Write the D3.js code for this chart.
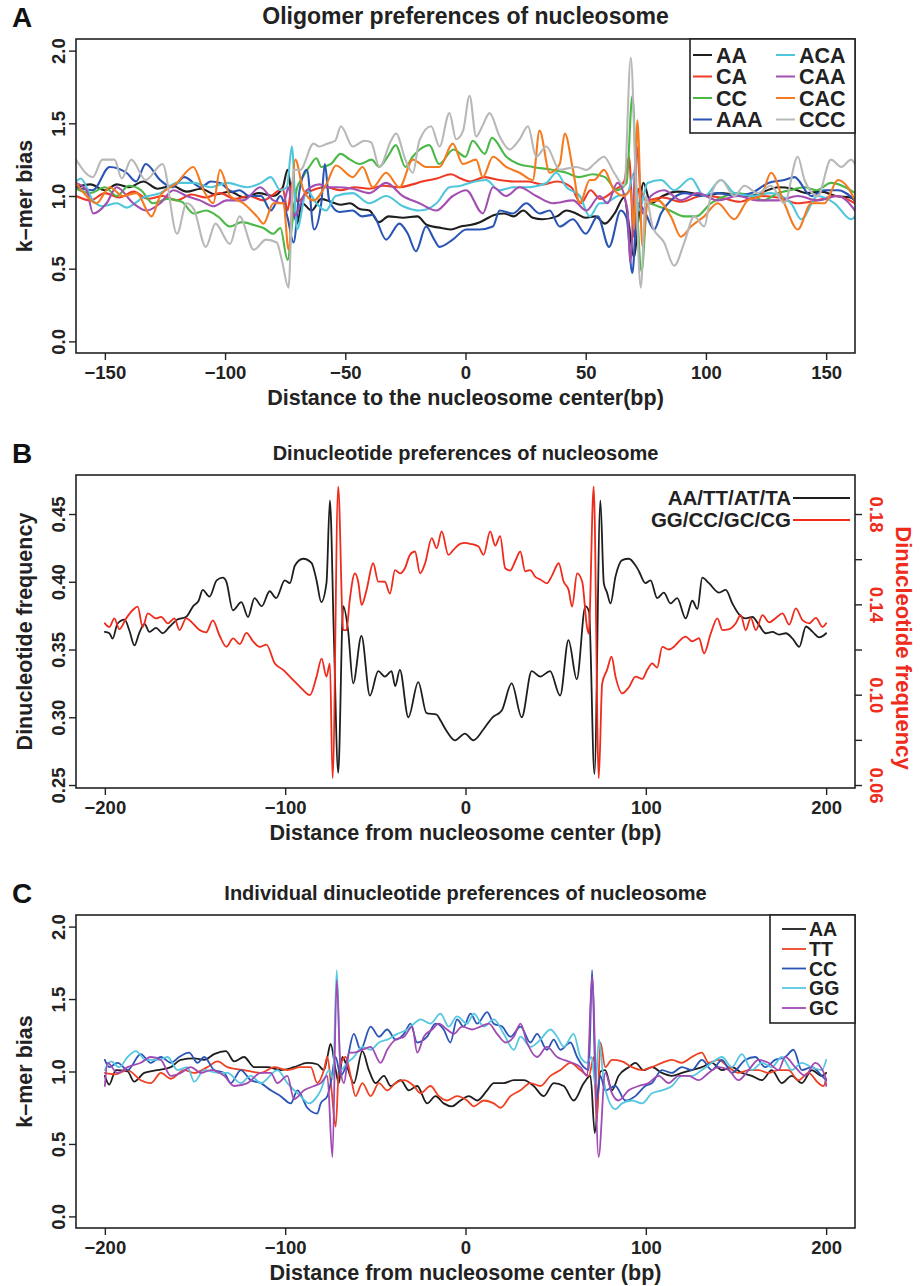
<!DOCTYPE html>
<html><head><meta charset="utf-8">
<script src="https://cdn.jsdelivr.net/npm/d3@7"></script>
<style>
body{margin:0;background:#fff}
svg{display:block}
</style>
</head><body>
<svg id="chart" width="920" height="1286"></svg>
<script>
// ---------------- DATA ----------------
// Panel A: k-mer bias vs distance to nucleosome center (bp)
const aTicksX = [-150,-100,-50,0,50,100,150];
const kTicksY = [0,0.5,1,1.5,2];
const aNames = ["AA","CA","CC","AAA","ACA","CAA","CAC","CCC"];
const aAA = [[-162,1.06],[-156,1.08],[-150,1.04],[-145,1.08],[-140,1.06],[-134,1.1],[-128,1.05],[-122,1.07],[-116,1.03],[-110,1.05],[-104,1.01],[-98,1.03],[-92,0.99],[-86,1.02],[-80,1.0],[-76,1.06],[-74,1.18],[-72,0.95],[-70,0.81],[-68,0.95],[-64,0.9],[-60,0.98],[-56,0.96],[-52,0.94],[-48,0.95],[-44,0.91],[-40,0.9],[-36,0.82],[-32,0.86],[-26,0.85],[-20,0.86],[-16,0.8],[-10,0.78],[-6,0.77],[-2,0.79],[2,0.8],[6,0.82],[12,0.87],[16,0.88],[20,0.86],[24,0.9],[28,0.85],[32,0.84],[38,0.86],[42,0.9],[46,0.88],[50,0.85],[54,0.86],[58,0.81],[62,0.88],[66,0.99],[68,0.8],[70,0.58],[72,0.85],[74,1.09],[77,0.95],[82,1.0],[88,1.03],[94,1.02],[100,1.0],[106,1.02],[112,1.01],[118,1.0],[124,1.03],[130,1.06],[136,1.05],[142,1.02],[148,1.03],[154,1.0],[160,0.99],[162,0.97]];
const aCA = [[-162,1.0],[-156,0.97],[-150,1.02],[-144,0.99],[-138,1.03],[-132,0.98],[-126,1.0],[-120,0.97],[-114,1.01],[-108,0.99],[-102,1.02],[-96,0.98],[-90,1.0],[-84,0.97],[-80,1.01],[-76,1.05],[-74,0.9],[-72,1.1],[-70,0.96],[-66,1.02],[-62,1.05],[-58,1.06],[-52,1.04],[-46,1.06],[-40,1.05],[-34,1.07],[-28,1.06],[-22,1.08],[-18,1.1],[-12,1.12],[-6,1.15],[-2,1.12],[2,1.1],[8,1.13],[14,1.11],[20,1.1],[26,1.1],[32,1.08],[38,1.1],[44,1.06],[48,0.95],[52,1.04],[56,0.98],[62,1.04],[66,1.1],[68,1.27],[70,0.72],[72,1.05],[75,0.97],[82,0.99],[90,0.96],[98,1.0],[106,0.99],[114,0.96],[122,1.0],[130,0.99],[138,0.95],[146,0.97],[154,1.0],[162,0.95]];
const aCC = [[-162,1.05],[-156,1.02],[-150,1.06],[-145,1.0],[-140,1.07],[-135,1.04],[-130,0.95],[-124,0.98],[-118,0.96],[-113,0.88],[-108,0.9],[-103,0.86],[-98,0.79],[-93,0.82],[-88,0.8],[-84,0.78],[-80,0.74],[-77,0.78],[-74,0.56],[-72,0.82],[-70,1.06],[-68,1.12],[-65,1.2],[-62,1.26],[-60,1.2],[-56,1.22],[-52,1.29],[-48,1.25],[-44,1.22],[-39,1.25],[-36,1.2],[-32,1.28],[-29,1.35],[-25,1.2],[-22,1.27],[-19,1.32],[-15,1.35],[-11,1.22],[-5,1.32],[0,1.27],[3,1.38],[8,1.29],[11,1.4],[17,1.27],[22,1.22],[28,1.2],[36,1.18],[42,1.16],[47,1.13],[53,1.15],[58,1.13],[63,1.04],[67,1.09],[69.4,1.69],[71.5,0.88],[73.2,0.48],[75.7,0.95],[80,0.93],[85,0.9],[91,0.86],[96,0.86],[102,0.95],[108,1.0],[113,1.02],[119,1.0],[124,0.97],[130,1.02],[135,1.04],[141,1.06],[146,1.04],[152,1.09],[158,1.06],[162,1.02]];
const aAAA = [[-162,1.06],[-155,1.04],[-148,1.2],[-141,1.16],[-137,1.1],[-133,1.22],[-127,1.11],[-122,1.06],[-117,1.13],[-110,1.06],[-106,1.1],[-102,1.09],[-97,1.03],[-94,1.04],[-90,1.0],[-85,1.0],[-81,0.9],[-77,1.0],[-74,0.85],[-71.5,0.68],[-69,1.04],[-66,1.18],[-63,0.77],[-60,0.95],[-58.5,1.22],[-56.7,0.97],[-52.5,0.89],[-47,0.9],[-43,0.86],[-38.6,0.87],[-33,0.7],[-27.5,0.81],[-24,0.74],[-20.6,0.62],[-16.4,0.79],[-13,0.7],[-10.8,0.65],[-5.3,0.7],[0.3,0.77],[5.8,0.77],[11.4,0.79],[14.2,0.9],[19.7,0.88],[25.3,0.95],[30.8,0.88],[35,0.9],[39.2,0.79],[44.7,0.84],[50,0.74],[55,0.86],[59.7,0.65],[64.6,0.9],[67,0.85],[69.4,0.47],[71.5,0.95],[74.3,0.9],[78.5,0.77],[81.3,0.88],[85.4,0.97],[91,1.02],[98,1.0],[105,1.02],[112,1.0],[119,1.02],[126,1.09],[132.6,1.11],[136.8,1.13],[143.8,1.0],[149.3,1.04],[155,1.04],[162,0.97]];
const aACA = [[-162,1.1],[-160,1.12],[-155,0.97],[-151,0.93],[-145,0.95],[-141,0.92],[-134,0.99],[-127,1.02],[-120,1.09],[-113,1.09],[-106,1.06],[-99,1.09],[-91,1.06],[-85,1.09],[-81,1.13],[-77,1.04],[-74.3,1.06],[-72.2,1.34],[-70.1,0.77],[-66,1.04],[-62,0.95],[-58,0.9],[-54,1.0],[-47,1.02],[-40,0.95],[-33,1.0],[-26,0.93],[-19,0.9],[-12,0.95],[-6.7,1.06],[-2,1.07],[1.7,1.09],[8.6,1.11],[14,1.04],[20,1.06],[25,1.06],[33.6,1.09],[37.8,1.16],[42,1.06],[47.5,1.0],[51.7,0.86],[55.8,0.95],[57.6,0.95],[63.2,1.0],[67.4,1.02],[70.1,1.16],[72.2,0.9],[75.7,1.09],[81.3,1.11],[86.8,1.04],[93.8,1.12],[99.3,1.0],[106.3,1.11],[111.8,1.02],[118.8,1.0],[127,1.02],[135.4,0.95],[139.6,0.84],[146.5,1.0],[153.5,0.95],[160.4,0.84],[162,0.86]];
const aCAA = [[-162,1.09],[-157.6,1.04],[-154.9,0.88],[-149.3,0.95],[-145.1,1.06],[-138.2,0.95],[-132.6,0.9],[-127,0.95],[-121.5,1.04],[-116,1.0],[-110.4,0.97],[-104.9,0.93],[-99.3,0.97],[-92.4,0.97],[-85.4,1.06],[-79.9,0.97],[-75.7,0.95],[-73.6,1.06],[-71.5,0.86],[-66,1.04],[-60.6,1.08],[-57.6,1.06],[-53.9,1.06],[-46.9,1.05],[-40,1.02],[-33,1.09],[-26.1,1.0],[-19.2,0.95],[-12.2,0.9],[-5.3,1.0],[0.3,1.04],[7.2,0.88],[11.4,1.06],[16.9,1.0],[22.5,1.06],[29.4,1.0],[36.4,0.95],[44.7,0.97],[50.3,0.9],[55.8,1.0],[59,0.95],[63.2,1.09],[67.4,0.9],[68.5,0.54],[71.2,1.34],[73.6,0.88],[77.1,1.0],[82.6,1.04],[89.6,0.97],[96.5,1.02],[104.9,0.97],[113.2,1.0],[121.5,0.97],[129.9,0.97],[138.2,1.0],[146.5,0.97],[154.9,1.0],[162,0.9]];
const aCAC = [[-162,1.09],[-157.6,1.0],[-153.5,0.95],[-148,1.06],[-142.4,1.0],[-136.8,1.02],[-130.6,0.86],[-127,1.0],[-120.1,1.09],[-113.2,1.2],[-109,1.04],[-104.9,0.95],[-102.1,1.18],[-97.9,1.0],[-92.4,0.95],[-86.8,0.86],[-84,0.81],[-79.9,0.95],[-75.7,0.95],[-73.6,0.63],[-70.8,1.25],[-67.4,1.04],[-63.2,0.97],[-57.6,1.09],[-53.9,1.21],[-46.9,1.13],[-42.8,1.2],[-38.6,1.06],[-33,1.16],[-27.5,1.06],[-21.9,1.25],[-16.4,1.2],[-10.8,1.2],[-5.3,1.36],[-1.1,1.22],[4.4,1.25],[7.2,1.13],[11.4,1.27],[16.9,1.2],[22.5,1.16],[28,1.11],[30.8,1.45],[35,1.16],[39.2,1.22],[41.3,1.43],[44.7,1.18],[47.5,0.95],[51.7,1.11],[53.5,1.11],[57.6,1.18],[61.8,1.04],[66,1.0],[68.75,1.04],[70.1,0.77],[71.5,1.52],[73.6,0.65],[75.7,0.95],[79.9,0.97],[85.4,0.86],[89.6,0.72],[93.8,0.79],[99.3,0.86],[104.9,0.95],[111.8,0.84],[117.4,0.97],[122.9,1.0],[127.1,1.16],[132.6,0.95],[138.2,0.77],[143.8,0.95],[149.3,0.95],[154.9,1.11],[159,1.06],[162,0.97]];
const aCCC = [[-162,1.25],[-155,1.13],[-151,1.25],[-146,1.25],[-143,1.12],[-139,1.25],[-133,1.11],[-126,1.22],[-120,0.74],[-116,0.95],[-113,0.91],[-108,0.65],[-104,0.81],[-98,0.67],[-94,0.86],[-88,0.63],[-83,0.7],[-78.5,0.68],[-76.4,0.56],[-73.6,0.37],[-71.5,1.18],[-68.75,1.18],[-63.2,1.36],[-60.8,1.34],[-57.6,1.36],[-54.2,1.38],[-51.8,1.48],[-46.9,1.34],[-42,1.38],[-39.3,1.37],[-35.8,1.2],[-31,1.38],[-28.9,1.43],[-25,1.25],[-21.9,1.16],[-19.2,1.38],[-14.3,1.48],[-10.8,1.34],[-6.7,1.57],[-3.9,1.39],[-1,1.45],[1.7,1.69],[4.4,1.41],[7,1.48],[10,1.57],[14.2,1.41],[18.3,1.32],[22.5,1.39],[26,1.48],[29.4,1.27],[33.6,1.34],[39.2,1.18],[46.1,1.2],[50.3,1.18],[53.5,1.22],[57.6,1.27],[61.8,1.16],[66,1.07],[68.75,1.95],[70.8,1.11],[72.9,0.37],[75,1.0],[77.8,0.79],[82.6,0.68],[86.8,0.52],[91,0.68],[95.1,0.86],[99.3,0.79],[102,1.0],[106.3,1.11],[111.8,1.0],[116,1.07],[121.5,1.02],[127,1.07],[132.6,0.95],[138.2,1.27],[141,1.11],[146.5,1.0],[152,1.25],[156.3,1.2],[160.4,1.25],[162,1.22]];

// Panel B: dinucleotide frequency vs distance from nucleosome center (bp)
const bTicksX = [-200,-100,0,100,200];
const bTicksLeft = [0.25,0.30,0.35,0.40,0.45];
const bTicksRight = [0.06,0.08,0.10,0.12,0.14,0.16,0.18];
const bTicksRightLabelled = [0.06,0.10,0.14,0.18];
const bNames = ["AA/TT/AT/TA","GG/CC/GC/CG"];
const bWW = [[-200,0.363],[-197.5,0.362],[-195.7,0.358],[-193,0.369],[-189,0.372],[-186.4,0.364],[-183.6,0.353],[-181,0.362],[-178,0.369],[-175.3,0.363],[-171.6,0.366],[-168,0.362],[-164,0.367],[-160,0.372],[-155,0.374],[-151,0.382],[-148,0.386],[-145.7,0.394],[-142,0.389],[-138,0.401],[-134.5,0.403],[-132.6,0.4],[-129,0.379],[-124.3,0.385],[-120.6,0.374],[-117,0.388],[-113,0.382],[-108.6,0.393],[-105,0.388],[-100.2,0.401],[-97.4,0.399],[-94.6,0.412],[-90,0.417],[-85.4,0.414],[-82.6,0.401],[-80,0.385],[-77.1,0.399],[-75.2,0.46],[-73,0.36],[-70.6,0.259],[-67.8,0.382],[-65.1,0.364],[-62.3,0.325],[-57.7,0.36],[-53,0.316],[-48.4,0.334],[-44.7,0.33],[-41,0.334],[-39,0.323],[-36.4,0.335],[-31.7,0.3],[-26.2,0.326],[-21.6,0.303],[-16,0.302],[-14,0.298],[-11,0.291],[-5.8,0.283],[-0.3,0.288],[4.3,0.283],[9.9,0.291],[15,0.3],[20.1,0.305],[25.6,0.325],[31.2,0.3],[36.7,0.334],[41.4,0.33],[46.9,0.334],[52.5,0.316],[57.1,0.357],[61.7,0.328],[66.5,0.382],[68.5,0.378],[71.5,0.258],[74.8,0.46],[76.7,0.399],[78.5,0.392],[80.4,0.384],[83.2,0.404],[86.9,0.416],[90.6,0.417],[94.3,0.412],[96.1,0.408],[99.8,0.399],[102.6,0.401],[106.3,0.388],[110,0.392],[113.7,0.384],[117.4,0.388],[122.1,0.373],[125.8,0.386],[128.6,0.38],[131.3,0.403],[135,0.399],[140.6,0.392],[144.3,0.394],[148,0.384],[151.7,0.376],[155.4,0.373],[159.1,0.374],[162.8,0.368],[166.5,0.362],[170.2,0.363],[173.9,0.361],[177.7,0.362],[181.4,0.358],[185.1,0.352],[188.8,0.367],[192.5,0.363],[196.2,0.359],[200,0.362]];
const bSS = [[-200,0.1316],[-197.5,0.13],[-194.7,0.1338],[-192,0.129],[-188.2,0.1338],[-184.5,0.1375],[-181.8,0.139],[-179,0.13],[-176.2,0.136],[-171.6,0.1338],[-168.8,0.1345],[-165.1,0.1316],[-161.4,0.1338],[-158.6,0.1286],[-154.9,0.1338],[-151.2,0.1316],[-147.5,0.1286],[-143.8,0.1276],[-140.1,0.1329],[-136.4,0.1262],[-132.6,0.1212],[-128.9,0.1249],[-125.2,0.1224],[-121.5,0.1274],[-117.8,0.1236],[-114.1,0.1212],[-110.4,0.1222],[-105.8,0.1139],[-101.1,0.111],[-97.4,0.108],[-93.7,0.105],[-90,0.102],[-86.3,0.0998],[-82.6,0.108],[-79.8,0.116],[-77.1,0.108],[-75.2,0.1139],[-73.7,0.063],[-70.6,0.1921],[-67.8,0.1286],[-66,0.1286],[-64.2,0.1419],[-61.3,0.1537],[-59.5,0.15],[-57.6,0.1397],[-54.9,0.1463],[-51.2,0.1582],[-48.4,0.1501],[-44.7,0.15],[-41.9,0.1448],[-39.1,0.1552],[-36.3,0.1537],[-33.6,0.156],[-30.8,0.1619],[-28,0.1634],[-25.2,0.1537],[-22.4,0.1582],[-18.7,0.1693],[-16,0.1648],[-13.2,0.1723],[-9.5,0.1619],[-6.7,0.1641],[-3,0.1668],[0,0.1672],[2.6,0.1668],[7.2,0.1656],[10,0.1619],[13.7,0.1723],[16.5,0.166],[19.2,0.1702],[22,0.156],[24.8,0.155],[27.6,0.1592],[30.4,0.1634],[33.1,0.1546],[35.9,0.1552],[38.7,0.1522],[41.5,0.151],[45.2,0.1493],[47.9,0.1526],[51.7,0.1582],[54.4,0.1501],[57.2,0.1463],[59.1,0.139],[61.9,0.1537],[64.7,0.1501],[67.4,0.1298],[68.3,0.127],[71.1,0.1921],[73.9,0.063],[75.8,0.105],[78.5,0.111],[81,0.1168],[83.2,0.108],[86.9,0.1006],[90.6,0.1033],[94.3,0.108],[98,0.107],[100.8,0.111],[103.5,0.1139],[106.3,0.112],[109.1,0.1212],[112.8,0.12],[115.6,0.1212],[118.4,0.1236],[122.1,0.1257],[125.8,0.1236],[129.5,0.125],[132.3,0.1183],[136,0.1271],[139.7,0.1338],[142.5,0.1286],[146.2,0.129],[149.9,0.1316],[152.6,0.1352],[155.4,0.1286],[158.2,0.134],[161,0.1286],[164.7,0.1352],[168.4,0.132],[172.1,0.134],[175.8,0.136],[179.5,0.131],[183.2,0.1382],[186.9,0.133],[190.6,0.1316],[194.3,0.134],[198,0.13],[200,0.1316]];

// Panel C: individual dinucleotide k-mer bias
const cTicksX = [-200,-100,0,100,200];
const cNames = ["AA","TT","CC","GG","GC"];
const cAA = [[-200,0.97],[-197.6,0.91],[-193.9,1.01],[-187.4,1.0],[-183.7,0.93],[-178.2,0.99],[-170.8,1.01],[-163.4,1.03],[-157.9,1.08],[-150.4,1.09],[-144.9,1.08],[-139.4,1.12],[-132.9,1.14],[-128.3,1.07],[-122.8,1.1],[-117.2,1.03],[-109.8,1.03],[-102.5,1.01],[-95.1,1.03],[-87.7,1.06],[-82.2,1.05],[-78.5,1.01],[-76.6,1.1],[-74.8,1.19],[-72,1.01],[-70.2,0.92],[-68.3,1.1],[-65.6,1.03],[-61.9,0.92],[-57.2,1.14],[-53.6,1.01],[-49.9,0.92],[-45.2,0.97],[-41.5,0.9],[-36,0.94],[-31.4,0.87],[-26.8,0.9],[-21.3,0.78],[-16.6,0.83],[-12.1,0.78],[-7.5,0.76],[-2.8,0.8],[1.8,0.83],[6.5,0.8],[12,0.87],[15.7,0.92],[21.2,0.92],[26.8,0.94],[32.3,0.94],[37.8,0.9],[43.4,0.83],[48.9,0.92],[54.5,0.9],[60,0.8],[65.6,0.92],[69.3,0.97],[71.7,0.575],[74.8,1.0],[77.5,1.01],[81.2,0.87],[84.9,0.97],[90.5,1.03],[94.2,1.06],[98.8,1.01],[103.4,1.03],[108.9,0.99],[114.5,0.97],[120,0.99],[125.5,1.01],[131.1,1.03],[136.6,1.06],[142.2,1.01],[147.7,1.03],[153.3,0.99],[158.8,0.97],[164.4,0.94],[169.9,1.01],[175.4,0.92],[180.9,0.97],[186.5,0.92],[192,1.01],[197.6,0.97],[200,0.99]];
const cTT = [[-200,0.99],[-194.4,0.98],[-187.4,1.01],[-180.1,0.94],[-174.5,0.92],[-168.9,0.99],[-163.4,0.95],[-156,1.01],[-150.4,0.99],[-143.1,1.03],[-137.5,1.07],[-132,1.03],[-122.8,1.01],[-113.5,0.99],[-106.1,1.03],[-98.8,1.01],[-91.4,1.03],[-85.8,1.03],[-82.2,0.92],[-78.5,1.01],[-76.6,1.1],[-74.5,0.9],[-72,0.62],[-70.2,1.01],[-66.5,1.1],[-63.7,0.97],[-61,0.83],[-57.2,0.92],[-52.6,0.83],[-48,0.92],[-43.4,0.87],[-38.8,0.92],[-34.1,0.94],[-28.6,0.9],[-25,0.85],[-19.4,0.9],[-14.8,0.83],[-10.2,0.8],[-4.7,0.83],[0.9,0.8],[4.6,0.76],[10.2,0.8],[15.7,0.78],[19.4,0.75],[24.9,0.83],[30.5,0.87],[36,0.92],[41.5,0.9],[47.1,0.97],[52.6,1.01],[58.2,1.06],[63.7,1.01],[68.4,0.97],[71.2,1.1],[72.8,0.65],[74.8,1.2],[77.5,1.03],[81.2,1.08],[86.8,1.07],[92.3,1.03],[97.9,1.01],[103.4,1.03],[109,1.06],[114.5,1.08],[120,1.06],[125.5,1.1],[131.1,1.13],[134.8,1.06],[140.3,1.08],[145.9,1.03],[151.4,0.99],[157,1.01],[162.5,1.01],[168,0.99],[173.6,1.01],[179.1,1.01],[184.6,0.94],[190.2,0.99],[195.7,0.92],[198.5,0.9],[200,0.95]];
const cCC = [[-200,1.08],[-197.6,1.03],[-192.9,1.06],[-187.4,1.01],[-180.1,1.12],[-174.5,1.06],[-168.9,1.1],[-163.4,1.06],[-158.8,1.1],[-153.3,1.13],[-148.6,1.06],[-144.9,1.1],[-139.4,1.01],[-133.8,0.99],[-130.2,0.92],[-124.6,1.01],[-119.1,0.94],[-113.5,0.92],[-108,0.87],[-102.5,0.83],[-96.9,0.78],[-93.2,0.87],[-87.7,0.75],[-82.2,0.71],[-80.3,0.78],[-76.6,0.83],[-74.8,0.92],[-72,1.1],[-69.3,0.97],[-66.5,1.03],[-61.9,1.26],[-58.2,1.15],[-52.6,1.31],[-48,1.24],[-43.4,1.29],[-38.8,1.22],[-34.1,1.26],[-30.5,1.33],[-26.8,1.2],[-21.3,1.24],[-16.6,1.33],[-12.1,1.29],[-8.4,1.2],[-4.7,1.36],[-1,1.31],[2.8,1.4],[6.5,1.33],[12,1.41],[15.7,1.33],[20.3,1.31],[24.9,1.24],[30.5,1.31],[36,1.2],[39.7,1.26],[45.2,1.15],[48.9,1.22],[52.6,1.15],[58.2,1.2],[61.9,1.1],[65.6,1.03],[68.4,1.01],[70.2,1.7],[72.5,0.8],[74.8,0.97],[77.5,0.87],[83.1,0.9],[88.6,0.8],[94.2,0.83],[99.7,0.9],[103.4,0.92],[108.9,1.01],[114.5,0.99],[120,1.03],[125.5,1.01],[131.1,1.08],[136.6,1.01],[142.2,1.08],[147.7,0.99],[155.1,1.08],[160.7,1.1],[166.2,1.03],[171.7,1.08],[177.3,1.1],[181.9,1.15],[186.5,1.01],[192,1.03],[197.6,0.97],[200,0.94]];
const cGG = [[-200,1.01],[-196.6,1.07],[-192,1.03],[-187.4,1.1],[-182.8,1.14],[-177.3,1.08],[-170.8,1.08],[-165.2,1.1],[-159.7,1.01],[-154.2,1.03],[-150.4,0.93],[-144.9,1.01],[-137.5,0.99],[-132,0.99],[-124.6,0.92],[-119.1,0.97],[-113.5,0.92],[-104.3,1.01],[-98.8,0.92],[-91.4,0.83],[-86.8,0.78],[-82.2,0.83],[-80.3,0.87],[-75.7,1.01],[-73.5,0.95],[-71.4,1.7],[-69.3,1.01],[-65.6,1.06],[-61.9,1.1],[-57.2,1.17],[-52.6,1.15],[-48,1.2],[-43.4,1.22],[-37.8,1.26],[-32.3,1.29],[-28.6,1.33],[-25,1.36],[-19.4,1.33],[-13.9,1.4],[-9.3,1.31],[-4.7,1.38],[0.9,1.33],[4.6,1.4],[10.2,1.31],[15.7,1.36],[21.2,1.26],[26.8,1.15],[30.5,1.24],[36,1.17],[41.5,1.22],[47.1,1.29],[50.8,1.24],[54.5,1.17],[60,1.26],[63.7,1.1],[67.5,1.06],[70,1.1],[72,0.9],[74,1.22],[76.5,0.95],[79.4,0.8],[83.1,0.74],[86.8,0.78],[92.3,0.8],[97.9,0.78],[103.4,0.85],[108.9,0.87],[114.5,0.9],[120,0.97],[125.5,0.97],[131.1,1.01],[136.6,1.06],[142.2,1.1],[147.7,1.03],[153.3,1.12],[158.8,1.01],[164.4,1.06],[169.9,1.03],[175.4,1.1],[180.9,1.01],[186.5,1.06],[192,1.03],[197.6,1.01],[200,1.08]];
const cGC = [[-200,0.9],[-198.5,1.06],[-193,0.99],[-187.4,1.03],[-180.1,1.06],[-174.5,1.1],[-168.9,1.08],[-163.4,0.97],[-157.9,0.99],[-152.3,1.03],[-146.7,0.99],[-141.2,1.01],[-133.8,0.97],[-128.3,0.9],[-120.9,0.92],[-113.5,0.99],[-108,0.99],[-104.3,0.92],[-98.8,0.97],[-95.1,0.81],[-89.5,0.87],[-84,0.9],[-80.3,0.92],[-76.6,0.97],[-73.8,0.41],[-71.4,1.63],[-69.3,1.01],[-67.4,0.92],[-64.6,1.13],[-61.9,1.13],[-57.2,1.15],[-52.6,1.17],[-47.1,1.06],[-43.4,1.15],[-38.8,1.22],[-34.1,1.24],[-29.5,1.31],[-26.8,1.13],[-23.1,1.24],[-18.5,1.29],[-14.8,1.33],[-10.2,1.29],[-6.5,1.26],[-1.9,1.31],[3.7,1.29],[8.3,1.31],[12.9,1.33],[17.5,1.26],[22.2,1.2],[26.8,1.24],[30.5,1.33],[34.1,1.2],[39.7,1.1],[45.2,1.17],[50.8,1.1],[54.5,1.08],[59.1,1.06],[63.7,1.03],[67.5,0.97],[70.2,1.655],[73.8,0.41],[77.5,0.99],[81.2,0.85],[84.9,0.8],[90.5,0.87],[96,0.9],[101.5,0.92],[107.1,0.97],[112.6,0.92],[118.2,0.97],[123.7,0.97],[129.2,0.94],[134.8,0.99],[140.3,1.03],[145.9,1.01],[151.4,0.94],[157,1.01],[162.5,1.08],[168,1.06],[173.6,1.01],[177.3,1.1],[182.8,1.03],[188.3,0.97],[193.9,1.06],[199.4,0.97],[200,0.9]];

// ---------------- DRAWING ----------------
const svg = d3.select("#chart");
const FONT = "'Liberation Sans', Arial, Helvetica, sans-serif";
const INK = "#222";
const L = 76, R = 855;
const TICK_FS = 18.5, AXT_FS = 21.5;

function txt(g, x, y, s, size, opts = {}) {
  const t = g.append("text").attr("x", x).attr("y", y).text(s)
    .attr("font-family", FONT).attr("font-weight", "bold").attr("font-size", size)
    .attr("fill", opts.fill || INK).attr("text-anchor", opts.anchor || "middle");
  if (opts.rotate) t.attr("transform", `rotate(${opts.rotate},${x},${y})`);
  if (opts.dy) t.attr("dy", opts.dy);
  return t;
}

function panel(cfg) {
  const { top, bottom } = cfg;
  const x = d3.scaleLinear().domain(cfg.xDomain).range([L, R]);
  const y = d3.scaleLinear().domain(cfg.yDomain).range([bottom, top]);
  const clipId = "clip" + cfg.letter;
  svg.append("clipPath").attr("id", clipId).append("rect")
    .attr("x", L).attr("y", top).attr("width", R - L).attr("height", bottom - top);
  const gl = svg.append("g").attr("clip-path", `url(#${clipId})`);
  cfg.series.forEach(s => {
    const ys = s.scale || y;
    const line = d3.line().curve(d3.curveMonotoneX).x(d => x(d[0])).y(d => ys(d[1]));
    gl.append("path").datum(s.data).attr("d", line).attr("fill", "none")
      .attr("stroke", s.color).attr("stroke-width", cfg.lw)
      .attr("stroke-linejoin", "round").attr("stroke-linecap", "round");
  });
  svg.append("rect").attr("x", L).attr("y", top).attr("width", R - L).attr("height", bottom - top)
    .attr("fill", "none").attr("stroke", INK).attr("stroke-width", 1.6);

  // x axis
  const gx = svg.append("g").attr("transform", `translate(0,${bottom})`)
    .call(d3.axisBottom(x).tickValues(cfg.xTicks).tickSize(7).tickFormat(d3.format("d")));
  gx.select(".domain").remove();
  gx.selectAll(".tick line").attr("stroke", INK).attr("stroke-width", 1.4);
  gx.selectAll(".tick text").attr("y", 26).attr("dy", 0).attr("fill", INK)
    .attr("font-family", FONT).attr("font-weight", "bold").attr("font-size", TICK_FS);

  // left y axis
  const gy = svg.append("g").attr("transform", `translate(${L},0)`)
    .call(d3.axisLeft(y).tickValues(cfg.yTicks).tickSize(7).tickFormat(cfg.yFmt));
  gy.select(".domain").remove();
  gy.selectAll(".tick line").attr("stroke", INK).attr("stroke-width", 1.4);
  gy.selectAll(".tick text").attr("x", 0).attr("dy", 0).attr("text-anchor", "middle")
    .attr("transform", "translate(-11,0) rotate(-90)").attr("fill", INK)
    .attr("font-family", FONT).attr("font-weight", "bold").attr("font-size", TICK_FS);

  // titles
  txt(svg, (L + R) / 2, top - 15, cfg.title, cfg.titleFs);
  txt(svg, 12, top - 12, cfg.letter, 28, { anchor: "start", fill: "#111" });
  txt(svg, (L + R) / 2, bottom + 52, cfg.xTitle, AXT_FS);
  txt(svg, 32, (top + bottom) / 2, cfg.yTitle, AXT_FS, { rotate: -90 });
  return { x, y };
}

// Panel A
const colA = ["#1e1e1e","#ee3a24","#4cb848","#2a55b4","#4fc6dc","#a34fb2","#f47b20","#b8b8b8"];
const dataA = [aAA, aCA, aCC, aAAA, aACA, aCAA, aCAC, aCCC];
panel({
  letter: "A", top: 39, bottom: 353, xDomain: [-162, 162], yDomain: [-0.08, 2.08],
  xTicks: aTicksX, yTicks: kTicksY, yFmt: d3.format(".1f"), lw: 2.1, titleFs: 23,
  title: "Oligomer preferences of nucleosome",
  xTitle: "Distance to the nucleosome center(bp)", yTitle: "k\u2013mer bias",
  series: dataA.map((d, i) => ({ data: d, color: colA[i] }))
});
// legend A
{
  const g = svg.append("g");
  g.append("rect").attr("x", 690).attr("y", 39).attr("width", 165).attr("height", 94)
    .attr("fill", "#fff").attr("stroke", INK).attr("stroke-width", 1.6);
  const rows = [55, 76.5, 98, 119.5];
  aNames.forEach((n, i) => {
    const col = Math.floor(i / 4), row = i % 4;
    const lx = col === 0 ? 693 : 776;
    g.append("line").attr("x1", lx).attr("x2", lx + 19).attr("y1", rows[row]).attr("y2", rows[row])
      .attr("stroke", colA[i]).attr("stroke-width", 2);
    txt(g, lx + 23, rows[row], n, 21.5, { anchor: "start", dy: "0.36em" });
  });
}

// Panel B
const bLeftDomain = [0.2478, 0.4788];
const bRightDomain = bLeftDomain.map(v => 0.06 + (v - 0.25) * 0.6);
const yRight = d3.scaleLinear().domain(bRightDomain).range([788, 475]);
const colB = ["#1e1e1e", "#ef2b1c"];
panel({
  letter: "B", top: 475, bottom: 788, xDomain: [-216, 216], yDomain: bLeftDomain,
  xTicks: bTicksX, yTicks: bTicksLeft, yFmt: d3.format(".2f"), lw: 1.8, titleFs: 20,
  title: "Dinucleotide preferences of nucleosome",
  xTitle: "Distance from nucleosome center (bp)", yTitle: "Dinucleotide frequency",
  series: [{ data: bWW, color: colB[0] }, { data: bSS, color: colB[1], scale: yRight }]
});
{
  const gr = svg.append("g").attr("transform", `translate(${R},0)`)
    .call(d3.axisRight(yRight).tickValues(bTicksRight).tickSize(7)
      .tickFormat(d => bTicksRightLabelled.some(v => Math.abs(v - d) < 1e-9) ? d3.format(".2f")(d) : ""));
  gr.select(".domain").remove();
  gr.selectAll(".tick line").attr("stroke", INK).attr("stroke-width", 1.4);
  gr.selectAll(".tick text").attr("x", 0).attr("dy", 0).attr("text-anchor", "middle")
    .attr("transform", "translate(15,0) rotate(90)").attr("fill", colB[1])
    .attr("font-family", FONT).attr("font-weight", "bold").attr("font-size", TICK_FS);
  txt(svg, 896, 648, "Dinucleotide frequency", 22, { rotate: 90, fill: colB[1] });
  const rows = [498, 520];
  bNames.forEach((n, i) => {
    svg.append("line").attr("x1", 793).attr("x2", 850).attr("y1", rows[i]).attr("y2", rows[i])
      .attr("stroke", colB[i]).attr("stroke-width", 1.8);
    txt(svg, 791, rows[i], n, 20.5, { anchor: "end", dy: "0.36em" });
  });
}

// Panel C
const colC = ["#1e1e1e", "#ef4123", "#2a54b6", "#56c7e1", "#a24ab3"];
const dataC = [cAA, cTT, cCC, cGG, cGC];
panel({
  letter: "C", top: 915, bottom: 1228, xDomain: [-216, 216], yDomain: [-0.08, 2.08],
  xTicks: cTicksX, yTicks: kTicksY, yFmt: d3.format(".1f"), lw: 1.8, titleFs: 20,
  title: "Individual dinucleotide preferences of nucleosome",
  xTitle: "Distance from nucleosome center (bp)", yTitle: "k\u2013mer bias",
  series: dataC.map((d, i) => ({ data: d, color: colC[i] }))
});
{
  const g = svg.append("g");
  g.append("rect").attr("x", 770).attr("y", 915).attr("width", 85).attr("height", 108)
    .attr("fill", "#fff").attr("stroke", INK).attr("stroke-width", 1.6);
  const rows = [929, 949, 968.5, 988, 1008];
  cNames.forEach((n, i) => {
    g.append("line").attr("x1", 782).attr("x2", 806).attr("y1", rows[i]).attr("y2", rows[i])
      .attr("stroke", colC[i]).attr("stroke-width", 1.8);
    txt(g, 809, rows[i], n, 19.5, { anchor: "start", dy: "0.36em" });
  });
}
</script>
</body></html>
